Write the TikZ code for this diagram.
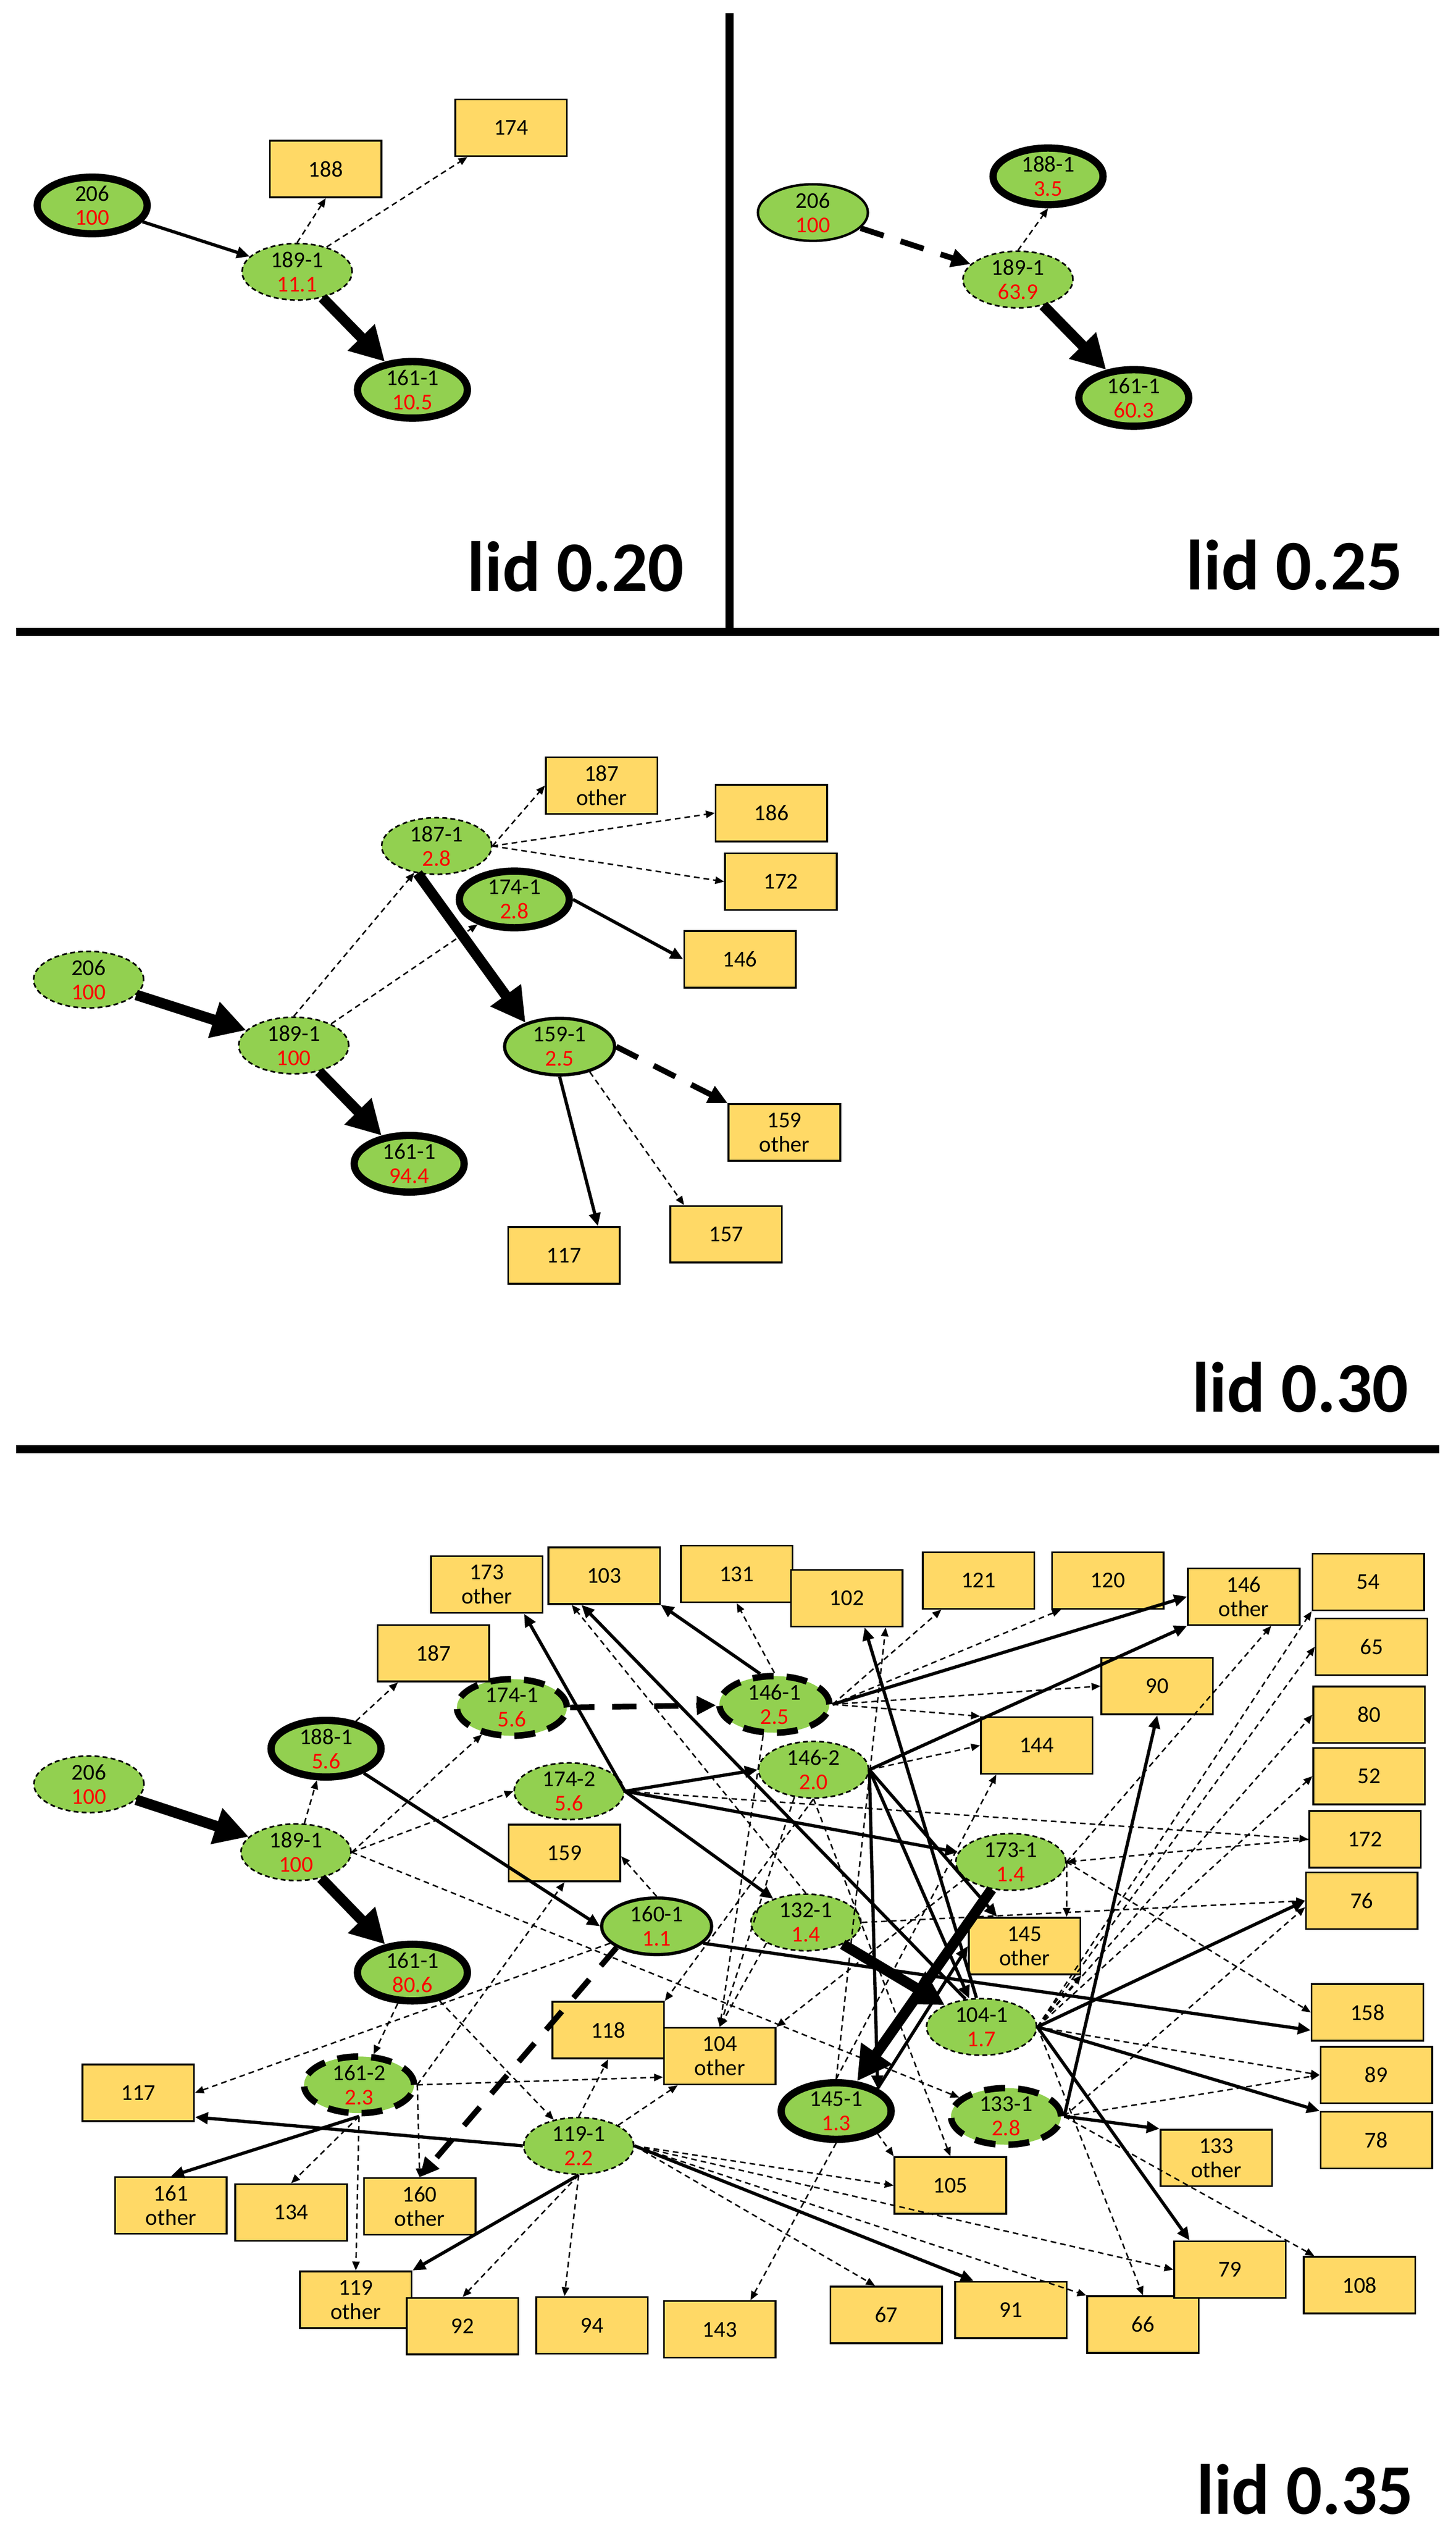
\documentclass[tikz,border=0pt]{standalone}
\usepackage{fontspec}
\setmainfont{Carlito}
\usetikzlibrary{shapes.geometric,arrows.meta,calc}
\definecolor{egreen}{HTML}{92D050}
\definecolor{bgold}{HTML}{FFD966}
\definecolor{vred}{HTML}{FF0000}
\newcommand\twol[2]{#1\\\textcolor{vred}{#2}}
\tikzset{
 ell/.style={ellipse, fill=egreen, minimum width=68pt, minimum height=35pt, inner sep=0pt, align=center, font=\fontsize{14}{15}\selectfont},
 ethin/.style={ell, draw, line width=1pt, dash pattern=on 3pt off 2pt},
 ethick/.style={ell, draw, line width=4.5pt},
 emed/.style={ell, draw, line width=2pt},
 esol/.style={ell, draw, line width=1.5pt},
 edash/.style={ell, draw, line width=4pt, dash pattern=on 13pt off 8pt},
 bx/.style={rectangle, fill=bgold, draw, line width=1.1pt, minimum width=69pt, minimum height=35pt, inner sep=0pt, align=center, font=\fontsize{14}{15}\selectfont},
 cdash/.style={line width=0.9pt, dash pattern=on 3.5pt off 2.5pt, -{Triangle[length=5.5pt,width=4.5pt]}},
 csol/.style={line width=2pt, -{Triangle[length=8pt,width=7pt]}},
 cbig/.style={line width=3.5pt, dash pattern=on 15pt off 11pt, -{Triangle[length=12pt,width=11pt]}},
 cvthick/.style={line width=6.5pt, -{Triangle[length=21pt,width=22pt]}},
 sepline/.style={line width=5pt},
 lidtext/.style={font=\fontsize{44}{48}\selectfont\bfseries, inner sep=0pt, anchor=base east},
}
\begin{document}
\begin{tikzpicture}[x=1pt,y=-1pt]
\useasboundingbox (0,0) rectangle (900,1564);
% separators
\draw[sepline] (10,390.8) -- (890,390.8);
\draw[sepline] (451,8) -- (451,390.8);
\draw[sepline] (10,895.9) -- (890,895.9);

% ---------------- panel 1 : lid 0.20
\node[ethick] (p1a) at (57,127) {\twol{206}{100}};
\node[bx] (p1b) at (201.4,104.5) {188};
\node[bx] (p1c) at (316,79) {174};
\node[ethin] (p1d) at (183.7,168) {\twol{189-1}{11.1}};
\node[ethick] (p1e) at (255,241) {\twol{161-1}{10.5}};
\node[lidtext] (p1lid) at (423,365.5) {lid 0.20};
\draw[csol] (p1a) -- (p1d);
\draw[cdash] (p1d.north) -- (p1b.south);
\draw[cdash] (p1d.40) -- ([xshift=-27pt]p1c.south);
\draw[cvthick] (p1d) -- (p1e);

% ---------------- panel 2 : lid 0.25
\node[esol] (p2a) at (502.6,131.4) {\twol{206}{100}};
\node[ethick] (p2b) at (648,109) {\twol{188-1}{3.5}};
\node[ethin] (p2c) at (629.4,172.8) {\twol{189-1}{63.9}};
\node[ethick] (p2d) at (701,246) {\twol{161-1}{60.3}};
\node[lidtext] (p2lid) at (867.5,364.5) {lid 0.25};
\draw[cbig] (p2a) -- (p2c);
\draw[cdash] (p2c.north) -- (p2b.south);
\draw[cvthick] (p2c) -- (p2d);

% ---------------- panel 3 : lid 0.30
\node[ethin] (p3a) at (54.8,605.6) {\twol{206}{100}};
\node[ethin] (p3b) at (181.6,646.3) {\twol{189-1}{100}};
\node[ethick] (p3c) at (253,719.4) {\twol{161-1}{94.4}};
\node[ethin] (p3d) at (270,523) {\twol{187-1}{2.8}};
\node[ethick] (p3e) at (318,556) {\twol{174-1}{2.8}};
\node[emed] (p3f) at (346,647) {\twol{159-1}{2.5}};
\node[bx] (p3g) at (372,485.6) {187\\other};
\node[bx] (p3h) at (477,502.6) {186};
\node[bx] (p3i) at (482.8,545) {172};
\node[bx] (p3j) at (457.5,593) {146};
\node[bx] (p3k) at (485,700) {159\\other};
\node[bx] (p3l) at (449,763) {157};
\node[bx] (p3m) at (348.7,776) {117};
\node[lidtext] (p3lid) at (871,873) {lid 0.30};
\draw[cvthick] (p3a) -- (p3b);
\draw[cvthick] (p3b) -- (p3c);
\draw[cdash] (p3b.north) -- (p3d);
\draw[cdash] (p3b.30) -- (p3e);
\draw[cvthick] (p3d.235) -- (p3f.145);
\draw[cdash] (p3d.east) -- (p3g.west);
\draw[cdash] (p3d.east) -- (p3h.west);
\draw[cdash] (p3d.east) -- (p3i.west);
\draw[csol] (p3e.east) -- (p3j.west);
\draw[cbig] (p3f.east) -- (p3k.north west);
\draw[cdash] (p3f.-40) -- ([xshift=-26pt]p3l.north);
\draw[csol] (p3f.south) -- ([xshift=21pt]p3m.north);

% ---------------- panel 4 : lid 0.35
% ellipses
\node[ethin] (qe206) at (55,1103) {\twol{206}{100}};
\node[ethin] (qe189) at (183,1145) {\twol{189-1}{100}};
\node[ethick] (qe188) at (201.6,1081) {\twol{188-1}{5.6}};
\node[ethick] (qe161a) at (255,1219.4) {\twol{161-1}{80.6}};
\node[edash] (qe174a) at (316.5,1055.5) {\twol{174-1}{5.6}};
\node[ethin] (qe174b) at (351.9,1107.3) {\twol{174-2}{5.6}};
\node[edash] (qe146a) at (478.8,1053.6) {\twol{146-1}{2.5}};
\node[ethin] (qe146b) at (503,1094) {\twol{146-2}{2.0}};
\node[ethin] (qe173) at (625,1151) {\twol{173-1}{1.4}};
\node[emed] (qe160) at (406,1190.8) {\twol{160-1}{1.1}};
\node[ethin] (qe132) at (498.3,1188.4) {\twol{132-1}{1.4}};
\node[ethin] (qe104) at (606.9,1253) {\twol{104-1}{1.7}};
\node[ethick] (qe145) at (517,1305) {\twol{145-1}{1.3}};
\node[edash] (qe133) at (622,1308.3) {\twol{133-1}{2.8}};
\node[edash] (qe161b) at (222,1288.8) {\twol{161-2}{2.3}};
\node[ethin] (qe119) at (357.8,1326.5) {\twol{119-1}{2.2}};
% boxes
\node[bx] (qc173o) at (301,979.5) {173\\other};
\node[bx] (qc103) at (373.5,974) {103};
\node[bx] (qc131) at (455.5,973) {131};
\node[bx] (qc102) at (523.6,988) {102};
\node[bx] (qc121) at (605,977) {121};
\node[bx] (qc120) at (685,977) {120};
\node[bx] (qc146o) at (769,987) {146\\other};
\node[bx] (qc54) at (846,978) {54};
\node[bx] (qc65) at (848,1018) {65};
\node[bx] (qc80) at (846.5,1060) {80};
\node[bx] (qc52) at (846.5,1098) {52};
\node[bx] (qc172) at (844,1137) {172};
\node[bx] (qc76) at (842,1175) {76};
\node[bx] (qc158) at (845.5,1244) {158};
\node[bx] (qc89) at (851,1282.7) {89};
\node[bx] (qc78) at (851,1323) {78};
\node[bx] (qc187) at (268,1022) {187};
\node[bx] (qc90) at (715.5,1042.3) {90};
\node[bx] (qc144) at (641,1079) {144};
\node[bx] (qc159) at (349,1145.5) {159};
\node[bx] (qc145o) at (633.5,1203) {145\\other};
\node[bx] (qc118) at (376,1255) {118};
\node[bx] (qc104o) at (445,1271) {104\\other};
\node[bx] (qc117) at (85.5,1293.7) {117};
\node[bx] (qc161o) at (105.7,1363.3) {161\\other};
\node[bx] (qc134) at (180,1367.7) {134};
\node[bx] (qc160o) at (259.5,1364) {160\\other};
\node[bx] (qc119o) at (220,1421.6) {119\\other};
\node[bx] (qc92) at (286,1438) {92};
\node[bx] (qc94) at (366,1437.5) {94};
\node[bx] (qc143) at (445,1440) {143};
\node[bx] (qc67) at (548,1431) {67};
\node[bx] (qc91) at (625,1428) {91};
\node[bx] (qc66) at (706.7,1437) {66};
\node[bx] (qc79) at (760.5,1403) {79};
\node[bx] (qc108) at (840.6,1412.6) {108};
\node[bx] (qc105) at (587.6,1351) {105};
\node[bx] (qc133o) at (752,1334) {133\\other};
\node[lidtext] (p4lid) at (874,1554) {lid 0.35};
% edges
\draw[cvthick] (qe206) -- (qe189);
\draw[cvthick] (qe189) -- (qe161a);
\draw[cdash] (qe189) -- (qe188);
\draw[cdash] (qe189.east) -- (qe174a);
\draw[cdash] (qe189.east) -- (qe174b.west);
\draw[cdash] (qe189.east) -- (qe133);
\draw[cdash] (qe188) -- ([xshift=-22pt]qc187.south);
\draw[csol] (qe188) -- (qe160.west);
\draw[cbig] (qe174a.east) -- (qe146a);
\draw[csol] (qe174b.east) -- ([xshift=23pt]qc173o.south);
\draw[csol] (qe174b.east) -- (qe146b.west);
\draw[csol] (qe174b.east) -- (qe173);
\draw[csol] (qe174b.east) -- (qe132);
\draw[cdash] (qe174b.east) -- (qc172.west);
\draw[cdash] (qe146a.north) -- (qc131.south);
\draw[csol] (qe146a.115) -- (qc103.south east);
\draw[csol] (qe146a.east) -- (qc146o.west);
\draw[cdash] (qe146a.east) -- ([xshift=-23pt]qc121.south);
\draw[cdash] (qe146a.east) -- ([xshift=-29pt]qc120.south);
\draw[cdash] (qe146a.east) -- (qc90.west);
\draw[cdash] (qe146a.east) -- (qc144.north west);
\draw[cdash] (qe146a.250) -- (qc104o.north);
\draw[csol] (qe146b.east) -- (qc146o.south west);
\draw[cdash] (qe146b.east) -- (qc144.west);
\draw[csol] (qe146b.east) -- (qe104);
\draw[csol] (qe146b.east) -- ([xshift=-17pt]qc145o.north);
\draw[csol] (qe146b.east) -- (qe145.north east);
\draw[cdash] (qe146b.south) -- (qc118.north east);
\draw[cdash] (qe146b.235) -- (qc104o.north);
\draw[cdash] (qe146b.south) -- (qc105.north);
\draw[cdash] (qe132.north) -- ([xshift=-20pt]qc103.south);
\draw[cvthick] (qe132) -- (qe104);
\draw[cdash] (qe132.south west) -- (qc104o.north);
\draw[cdash] (qe132.east) -- (qc76.west);
\draw[cvthick] (qe173) -- (qe145);
\draw[cdash] (qe173.east) -- ([xshift=17pt]qc146o.south);
\draw[cdash] (qe173.east) -- (qe173.east |- qc145o.north);
\draw[cdash] (qe173.east) -- (qc158.west);
\draw[cdash] (qc172.west) -- (qe173.east);
\draw[cdash] (qe173.200) -- (qc104o.north east);
\draw[csol] (qe104.120) -- ([xshift=-14pt]qc103.south);
\draw[csol] (qe104.100) -- ([xshift=11pt]qc102.south);
\draw[cdash] (qe104.east) -- (qc54.south west);
\draw[cdash] (qe104.east) -- (qc65.west);
\draw[cdash] (qe104.east) -- (qc80.west);
\draw[cdash] (qe104.east) -- (qc52.west);
\draw[csol] (qe104.east) -- (qc76.west);
\draw[cdash] (qe104.east) -- (qc89.west);
\draw[csol] (qe104.east) -- (qc78.north west);
\draw[csol] (qe104.east) -- ([xshift=-25pt]qc79.north);
\draw[cdash] (qe104.east) -- (qc66.north);
\draw[cdash] (qe104.east) -- (qc145o.south east);
\draw[csol] (qe133.east) -- (qc90.south);
\draw[csol] (qe133.east) -- (qc133o.north west);
\draw[cdash] (qe133.east) -- (qc89.west);
\draw[cdash] (qe133.east) -- ($(qc76.west)+(0,4)$);
\draw[cdash] (qe133.east) -- ([xshift=-28pt]qc108.north);
\draw[csol] (qe145.north east) -- (qc145o.west);
\draw[cdash] (qe145.north) -- ([xshift=-25pt]qc144.south);
\draw[cdash] (qe145.north) -- ([xshift=24pt]qc102.south);
\draw[cdash] (qe145.south) -- ([xshift=19pt]qc143.north);
\draw[cdash] (qe145.south east) -- (qc105.north west);
\draw[csol] (qe160.-20) -- ($(qc158.south west)+(0,-7)$);
\draw[cdash] (qe160.200) -- (qc117.east);
\draw[cdash] (qe160.north) -- ($(qc159.east)+(0,2)$);
\draw[cbig] (qe160.south west) -- (qc160o.north);
\draw[cdash] (qe161a) -- (qe161b);
\draw[cdash] (qe161a) -- (qe119);
\draw[csol] (qe161b.south) -- (qc161o.north);
\draw[cdash] (qe161b.south) -- (qc134.north);
\draw[cdash] (qe161b.south) -- (qc119o.north);
\draw[cdash] (qe161b.east) -- (qc160o.north);
\draw[cdash] (qe161b.east) -- ($(qc104o.south west)+(0,-5)$);
\draw[cdash] (qe161b.east) -- (qc159.south);
\draw[csol] (qe119.west) -- ($(qc117.south east)+(0,-3)$);
\draw[csol] (qe119.south) -- (qc119o.north east);
\draw[cdash] (qe119.south) -- (qc92.north);
\draw[cdash] (qe119.south) -- ([xshift=-17pt]qc94.north);
\draw[cdash] (qe119.north) -- (qc118.south);
\draw[cdash] (qe119.north east) -- ([xshift=-26pt]qc104o.south);
\draw[cdash] (qe119.east) -- (qc105.west);
\draw[cdash] (qe119.east) -- (qc79.west);
\draw[cdash] (qe119.east) -- (qc66.north west);
\draw[csol] (qe119.east) -- ([xshift=-23pt]qc91.north);
\draw[cdash] (qe119.east) -- ([xshift=-7pt]qc67.north);
\end{tikzpicture}
\end{document}
